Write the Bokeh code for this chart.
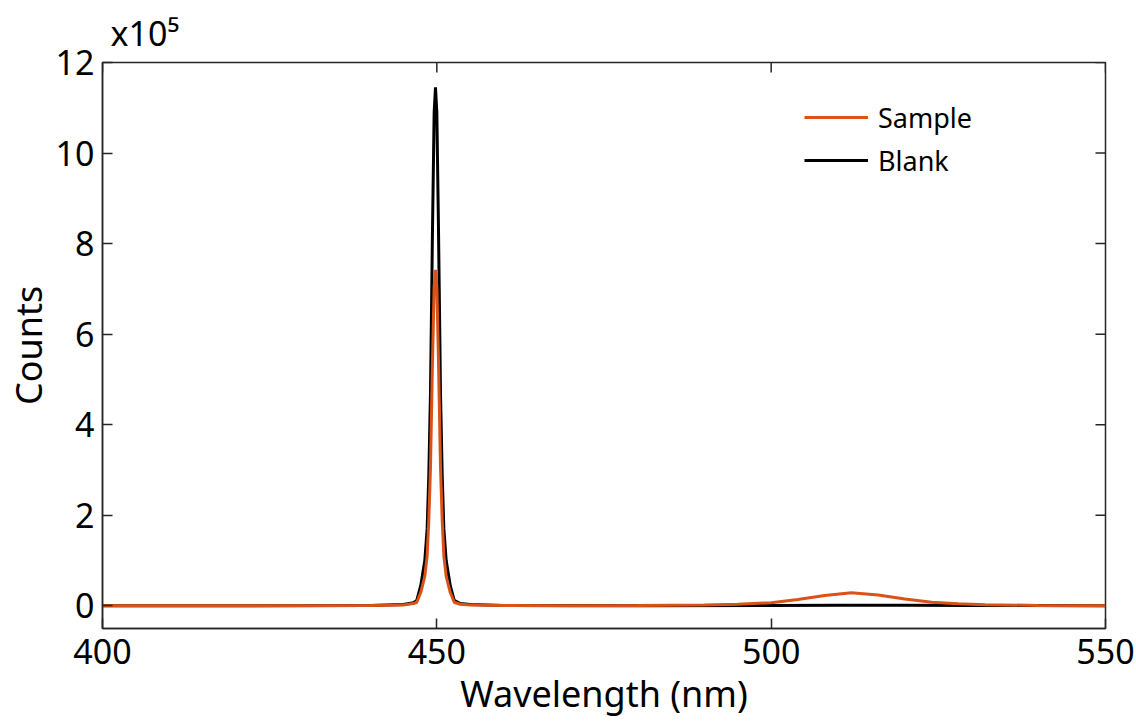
import math
from bokeh.plotting import figure
from bokeh.models import Range1d, FixedTicker, Legend, LegendItem
from bokeh.embed import file_html
from bokeh.resources import INLINE

# ---- data (counts in units of 1e5) ----
blank_wl = [400, 420, 440, 445, 446.5, 447.0, 447.6, 448.2, 448.55, 448.8, 449.05, 449.35,
            449.6, 449.8, 450.0, 450.25, 450.55, 450.8, 451.05, 451.4, 452.0, 452.6,
            453.5, 455, 460, 480, 500, 510, 520, 530, 550]
blank = [0.0, 0.002, 0.01, 0.03, 0.07, 0.12, 0.45, 1.0, 1.7, 2.9, 4.7, 8.3,
         10.9, 11.45, 10.9, 8.3, 4.7, 2.9, 1.7, 1.0, 0.45, 0.12,
         0.05, 0.03, 0.01, 0.005, 0.01, 0.015, 0.012, 0.008, 0.0]

sample_wl = [400, 420, 440, 445, 446.5, 447.0, 447.6, 448.2, 448.55, 448.8, 449.05, 449.35,
             449.6, 449.8, 450.0, 450.25, 450.55, 450.8, 451.05, 451.4, 452.0, 452.6,
             453.5, 455, 460, 470, 480, 490, 495, 500, 504, 508, 512, 516, 520, 524,
             528, 532, 540, 550]
sample = [0.0, 0.002, 0.008, 0.02, 0.05, 0.08, 0.3, 0.65, 1.1, 1.9, 3.05, 5.4,
          7.05, 7.42, 7.05, 5.4, 3.05, 1.9, 1.1, 0.65, 0.3, 0.08,
          0.035, 0.02, 0.008, 0.005, 0.01, 0.02, 0.035, 0.07, 0.14, 0.23, 0.29, 0.24, 0.15, 0.08,
          0.045, 0.025, 0.01, 0.005]

x_ticks = [400, 450, 500, 550]
y_ticks = [0, 2, 4, 6, 8, 10, 12]
x_min, x_max = 400, 550
y_min, y_max = -0.5, 12
series_names = ["Sample", "Blank"]
series_colors = ["#D95319", "#000000"]
scale_text = "x10\u2075"

FONT = "Noto Sans"
AX = "#262626"

p = figure(width=1136, height=723, output_backend="svg", toolbar_location=None,
           x_range=Range1d(x_min, x_max), y_range=Range1d(y_min, y_max),
           min_border_left=101, min_border_right=31, min_border_top=60, min_border_bottom=95)
p.background_fill_color = "white"
p.border_fill_color = "white"
p.outline_line_color = AX
p.outline_line_width = 1.5
p.grid.visible = False

# scale factor as title, top-left
p.title.text = scale_text
p.title.text_font = FONT
p.title.text_font_size = "34px"
p.title.text_font_style = "normal"
p.title.text_color = "black"
p.title.align = "left"
p.title.offset = 8
p.title.standoff = 14

xa = p.xaxis[0]
ya = p.yaxis[0]
xa.ticker = FixedTicker(ticks=x_ticks)
ya.ticker = FixedTicker(ticks=y_ticks)
for ax in (xa, ya):
    ax.axis_line_color = AX
    ax.axis_line_width = 1.5
    ax.major_tick_in = 10
    ax.major_tick_out = 0
    ax.major_tick_line_color = AX
    ax.major_tick_line_width = 1.5
    ax.minor_tick_line_color = None
    ax.major_label_text_font = FONT
    ax.major_label_text_color = "black"
    ax.major_label_text_font_size = "34px"
    ax.axis_label_text_font = FONT
    ax.axis_label_text_font_size = "36px"
    ax.axis_label_text_font_style = "normal"
    ax.axis_label_text_color = "black"
xa.major_label_standoff = 10
ya.major_label_standoff = 8
xa.axis_label = "Wavelength (nm)"
ya.axis_label = "Counts"
xa.axis_label_standoff = 2
ya.axis_label_standoff = 0

# mirrored inward ticks on top and right edges (clipped to frame -> only inner half shows)
p.scatter(x_ticks, [y_max] * len(x_ticks), marker="dash", size=20, angle=math.pi / 2,
          line_color=AX, line_width=1.5)
p.scatter([x_max] * len(y_ticks), y_ticks, marker="dash", size=20,
          line_color=AX, line_width=1.5)

r_b = p.line(blank_wl, blank, line_color=series_colors[1], line_width=3)
r_s = p.line(sample_wl, sample, line_color=series_colors[0], line_width=3)

legend = Legend(items=[LegendItem(label=series_names[0], renderers=[r_s]),
                       LegendItem(label=series_names[1], renderers=[r_b])],
                location=(702, 449), orientation="vertical")
legend.border_line_color = None
legend.background_fill_alpha = 0
legend.label_text_font = FONT
legend.label_text_font_size = "27px"
legend.label_text_color = "black"
legend.glyph_width = 64
legend.glyph_height = 38
legend.spacing = 5
legend.padding = 0
legend.margin = 0
legend.label_standoff = 10
p.add_layout(legend)

open("out.html", "w").write(file_html(p, INLINE))
